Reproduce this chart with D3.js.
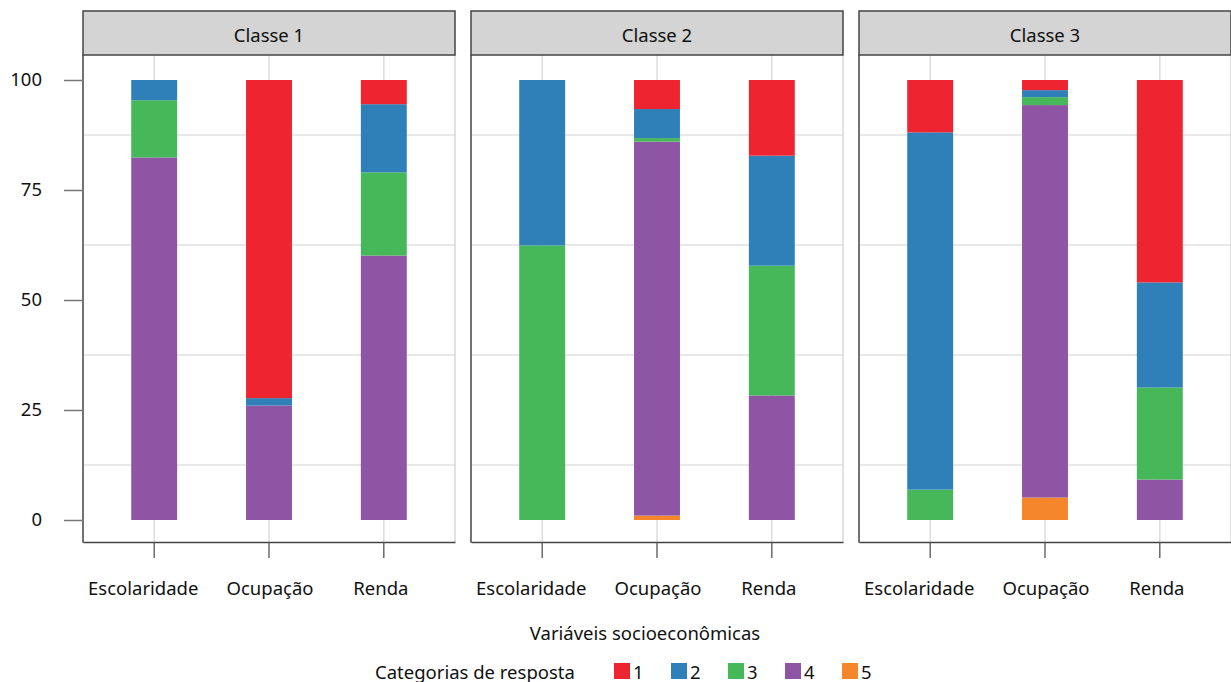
<!DOCTYPE html>
<html>
<head>
<meta charset="utf-8">
<script src="https://cdn.jsdelivr.net/npm/d3@7"></script>
<style>
  html, body { margin: 0; padding: 0; background: #fff; }
  svg { display: block; font-family: "Noto Sans", "Open Sans", sans-serif; }
</style>
</head>
<body>
<svg id="chart" width="1231" height="682"></svg>
<script>
// Panels (latent classes) and the socioeconomic variables on the x axis
const classes = ["Classe 1", "Classe 2", "Classe 3"];
const variables = ["Escolaridade", "Ocupação", "Renda"];
const responseCategories = ["1", "2", "3", "4", "5"];

// Percentage of each response category, ordered class by class:
// [C1 Esc, C1 Ocu, C1 Renda, C2 Esc, C2 Ocu, C2 Renda, C3 Esc, C3 Ocu, C3 Renda]
const cat1 = [0.0, 72.3, 5.5, 0.0, 6.6, 17.2, 11.9, 2.3, 46.0];
const cat2 = [4.6, 1.7, 15.5, 37.6, 6.6, 25.0, 81.2, 1.6, 23.9];
const cat3 = [13.0, 0.0, 18.9, 62.4, 0.8, 29.5, 6.9, 1.8, 20.9];
const cat4 = [82.4, 26.0, 60.1, 0.0, 85.0, 28.3, 0.0, 89.2, 9.2];
const cat5 = [0.0, 0.0, 0.0, 0.0, 1.0, 0.0, 0.0, 5.1, 0.0];

const yTicks = [0, 25, 50, 75, 100];
const yGrid = [12.5, 37.5, 62.5, 87.5];

const colors = {
  "1": "#ee2430",
  "2": "#2f80b9",
  "3": "#46b85a",
  "4": "#8e55a4",
  "5": "#f6862b"
};

// Build the table used by d3.stack
const seriesByCat = { "1": cat1, "2": cat2, "3": cat3, "4": cat4, "5": cat5 };
const rows = [];
classes.forEach((c, ci) => {
  variables.forEach((v, vi) => {
    const i = ci * variables.length + vi;
    const row = { classe: c, variavel: v };
    responseCategories.forEach(k => { row[k] = seriesByCat[k][i]; });
    rows.push(row);
  });
});

const stackKeys = ["5", "4", "3", "2", "1"]; // category 5 at the bottom
const stacked = d3.stack().keys(stackKeys)(rows);

const svg = d3.select("#chart");

// Layout
const panelLeft = 83, panelW = 372, panelGap = 16;
const stripTop = 11, stripBottom = 55, plotBottom = 542;
const fontSize = 18.5;

const panelX = d3.scaleBand()
  .domain(classes)
  .range([panelLeft, panelLeft + classes.length * panelW + (classes.length - 1) * panelGap])
  .paddingInner(panelGap / (panelW + panelGap))
  .paddingOuter(0);

const x = d3.scaleBand()
  .domain(variables)
  .range([0, panelX.bandwidth()])
  .paddingInner(0.6)
  .paddingOuter(0.42);

const y = d3.scaleLinear().domain([0, 100]).range([520, 80]);

const textColor = "#111";

classes.forEach((c) => {
  const g = svg.append("g").attr("transform", `translate(${panelX(c)},0)`);
  const w = panelX.bandwidth();

  // horizontal grid
  g.selectAll("line.hgrid").data(yGrid).join("line")
    .attr("x1", 0).attr("x2", w)
    .attr("y1", d => y(d)).attr("y2", d => y(d))
    .attr("stroke", "#d4d4d4").attr("stroke-width", 1.2);

  // vertical grid at each variable
  g.selectAll("line.vgrid").data(variables).join("line")
    .attr("x1", d => x(d) + x.bandwidth() / 2).attr("x2", d => x(d) + x.bandwidth() / 2)
    .attr("y1", stripBottom).attr("y2", plotBottom)
    .attr("stroke", "#d4d4d4").attr("stroke-width", 1.2);

  // right edge of panel (light)
  g.append("line")
    .attr("x1", w).attr("x2", w).attr("y1", stripBottom).attr("y2", plotBottom)
    .attr("stroke", "#cfcfcf").attr("stroke-width", 1.2);

  // stacked bars
  stacked.forEach(layer => {
    g.selectAll(null)
      .data(layer.filter(d => d.data.classe === c && d[1] - d[0] > 0))
      .join("rect")
      .attr("x", d => x(d.data.variavel))
      .attr("width", x.bandwidth())
      .attr("y", d => y(d[1]))
      .attr("height", d => y(d[0]) - y(d[1]))
      .attr("fill", colors[layer.key]);
  });

  // x axis
  const xAxis = d3.axisBottom(x).tickSize(16).tickPadding(24).tickSizeOuter(0);
  const ax = g.append("g").attr("transform", `translate(0,${plotBottom})`).call(xAxis);
  ax.select(".domain").attr("stroke", "#444").attr("stroke-width", 1.5);
  ax.selectAll(".tick line").attr("stroke", "#555").attr("stroke-width", 1.3);
  ax.selectAll(".tick text")
    .attr("font-size", fontSize).attr("fill", textColor)
    .attr("font-family", "Noto Sans, Open Sans, sans-serif")
    .attr("dx", d => d === "Escolaridade" ? -11 : (d === "Renda" ? -3 : 1));

  // left panel border
  g.append("line")
    .attr("x1", 0).attr("x2", 0).attr("y1", stripBottom).attr("y2", plotBottom + 0.75)
    .attr("stroke", "#444").attr("stroke-width", 1.5);

  // strip
  g.append("rect")
    .attr("x", 0).attr("y", stripTop).attr("width", w).attr("height", stripBottom - stripTop)
    .attr("fill", "#d3d4d3").attr("stroke", "#444").attr("stroke-width", 1.5);
  g.append("text")
    .attr("x", w / 2).attr("y", (stripTop + stripBottom) / 2 + 1)
    .attr("text-anchor", "middle").attr("dominant-baseline", "central")
    .attr("font-size", fontSize).attr("fill", textColor)
    .text(c);
});

// y axis (left of the first panel)
const yAxis = d3.axisLeft(y).tickValues(yTicks).tickSize(19).tickPadding(22);
const yg = svg.append("g").attr("transform", `translate(${panelLeft},0)`).call(yAxis);
yg.select(".domain").remove();
yg.selectAll(".tick line").attr("stroke", "#777").attr("stroke-width", 1.5);
yg.selectAll(".tick text")
  .attr("font-size", fontSize).attr("fill", textColor)
  .attr("font-family", "Noto Sans, Open Sans, sans-serif");

// x axis title
svg.append("text")
  .attr("x", 645).attr("y", 632)
  .attr("text-anchor", "middle").attr("dominant-baseline", "central")
  .attr("font-size", fontSize).attr("fill", textColor)
  .text("Variáveis socioeconômicas");

// legend
const legend = svg.append("g");
legend.append("text")
  .attr("x", 375).attr("y", 671)
  .attr("dominant-baseline", "central")
  .attr("font-size", fontSize).attr("fill", textColor)
  .text("Categorias de resposta");

const legendX = d3.scalePoint().domain(responseCategories).range([614, 842]);
const items = legend.selectAll("g.item").data(responseCategories).join("g")
  .attr("transform", d => `translate(${legendX(d)},663)`);
items.append("rect").attr("width", 16).attr("height", 16).attr("fill", d => colors[d]);
items.append("text")
  .attr("x", 19).attr("y", 8)
  .attr("dominant-baseline", "central")
  .attr("font-size", fontSize).attr("fill", textColor)
  .text(d => d);
</script>
</body>
</html>
